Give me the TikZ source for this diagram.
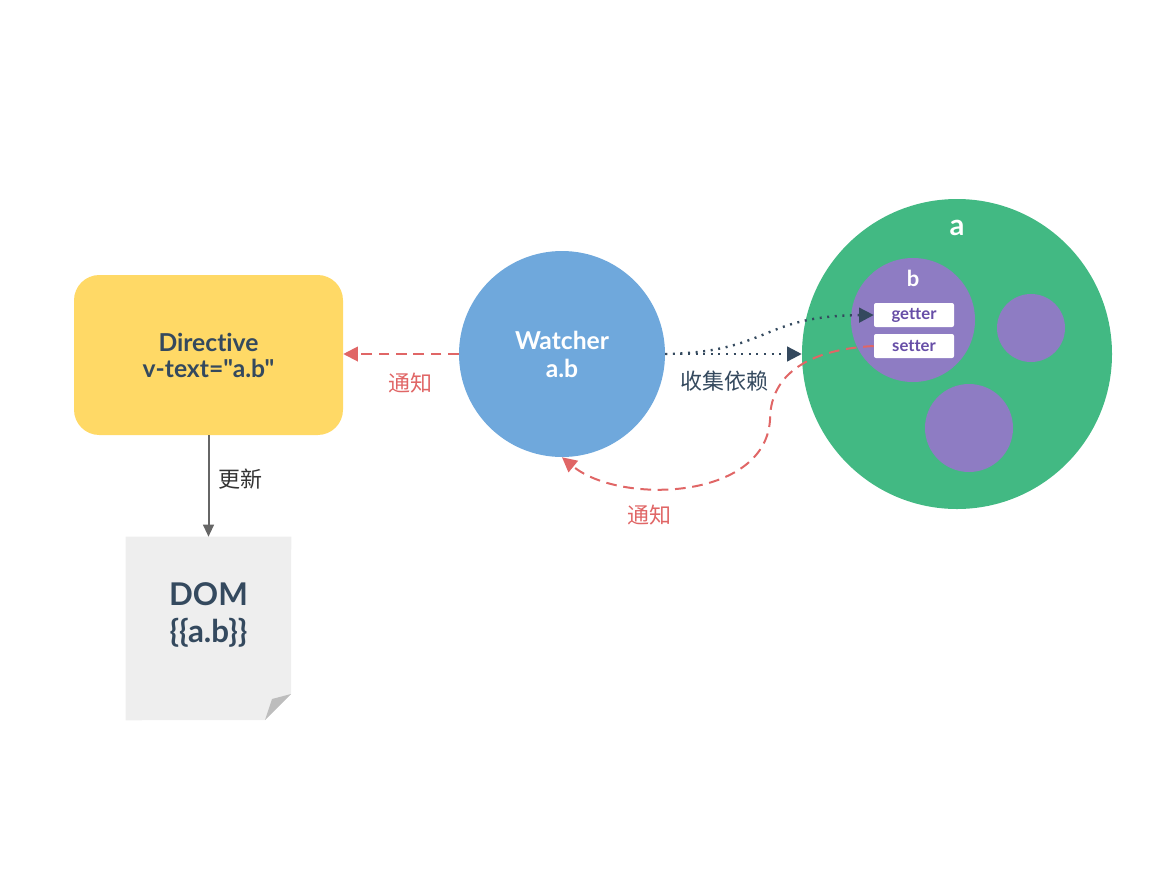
\documentclass[tikz,border=0pt]{standalone}
\usepackage{fontspec}
\setmainfont{Lato}[Ligatures={TeXOff,NoCommon}]
\newfontfamily\cjk{Noto Sans CJK SC}
\usetikzlibrary{arrows.meta}

\definecolor{ink}{HTML}{34495E}
\definecolor{dirYellow}{HTML}{FFD966}
\definecolor{watchBlue}{HTML}{6FA8DC}
\definecolor{vueGreen}{HTML}{42B983}
\definecolor{depPurple}{HTML}{8E7CC3}
\definecolor{notifyRed}{HTML}{E06666}
\definecolor{pageGray}{HTML}{EEEEEE}
\definecolor{foldGray}{HTML}{BDBDBD}
\definecolor{arrowGray}{HTML}{666666}
\definecolor{accessorText}{HTML}{674EA7}

\tikzset{
  bigtext/.style={font=\bfseries\fontsize{18.5}{19.5}\selectfont, align=center},
  cjklabel/.style={font=\cjk\fontsize{16.5}{18}\selectfont},
  blob/.style={circle, fill=depPurple, inner sep=0pt},
  accessor/.style={fill=white, rounded corners=1.5pt, minimum width=60pt, minimum height=18pt,
    inner sep=0pt, text=accessorText, font=\bfseries\fontsize{12.5}{14}\selectfont},
  notify/.style={notifyRed, line width=1.5pt, dash pattern=on 8pt off 5pt,
    -{Triangle[length=11pt,width=11pt]}},
  collect/.style={ink, line width=1.8pt, dash pattern=on 1.5pt off 4.2pt,
    -{Triangle[length=11pt,width=11pt]}},
  refresh/.style={arrowGray, line width=1.5pt, -{Triangle[length=9pt,width=8pt]}}
}

\begin{document}
\begin{tikzpicture}[x=0.75pt,y=-0.75pt]
\useasboundingbox (0,0) rectangle (1159,868);

% directive and watcher
\node[fill=dirYellow, rounded corners=19pt, minimum width=201.75pt, minimum height=120pt,
  bigtext, text=ink] (directive) at (208.5,355) {Directive\\v-text="a.b"};
\node[circle, fill=watchBlue, minimum size=154.5pt, inner sep=0pt,
  bigtext, font=\bfseries\fontsize{18.5}{21}\selectfont, text=white] (watcher) at (562,354) {Watcher\\a.b};

% data object a
\node[circle, fill=vueGreen, minimum size=232.5pt, inner sep=0pt] (objA) at (957,354) {};
\node[text=white, font=\bfseries\fontsize{22}{24}\selectfont] (labelA) at (957,228) {a};
\node[blob, minimum size=93pt] (objB) at (913,320) {};
\node[text=white, font=\bfseries\fontsize{16.5}{18}\selectfont] (labelB) at (913,278) {b};
\node[blob, minimum size=51pt] (objC) at (1031,328) {};
\node[blob, minimum size=66pt] (objD) at (969,428) {};
\node[accessor] (getter) at (914,315) {getter};
\node[accessor] (setter) at (914,346) {setter};

% dom page
\node[minimum width=123.75pt, minimum height=137.25pt, inner sep=0pt] (dom) at (208.5,628.5) {};
\fill[pageGray] (dom.north west) -- (dom.north east) -- (291,694) -- (265,720) -- (dom.south west) -- cycle;
\fill[foldGray] (291,694) -- (265,720) -- (272,699) -- cycle;
\node[font=\bfseries\fontsize{23.5}{28}\selectfont, align=center, text=ink] (domtext) at (208.5,615) {DOM\\\{\{a.b\}\}};

% connectors
\draw[refresh] (directive) -- (dom);
\node[cjklabel, text=black!80] (refreshlabel) at (240,479) {更新};

\draw[notify] (watcher.west) -- (directive.east |- watcher.west);
\node[cjklabel, text=notifyRed] (notifyleft) at (410,383) {通知};

\draw[collect] (watcher.east) -- (objA.west);
\draw[collect] (watcher.east) .. controls (770,352) and (760,316) .. (getter.west);
\node[cjklabel, text=ink] (collectlabel) at (724,381) {收集依赖};

\draw[notify] (setter.west) .. controls (800,350) and (770,380) .. (770,420)
  .. controls (765,500) and (620,505) .. (watcher.-90);
\node[cjklabel, text=notifyRed] (notifyright) at (649,515) {通知};

\end{tikzpicture}
\end{document}
